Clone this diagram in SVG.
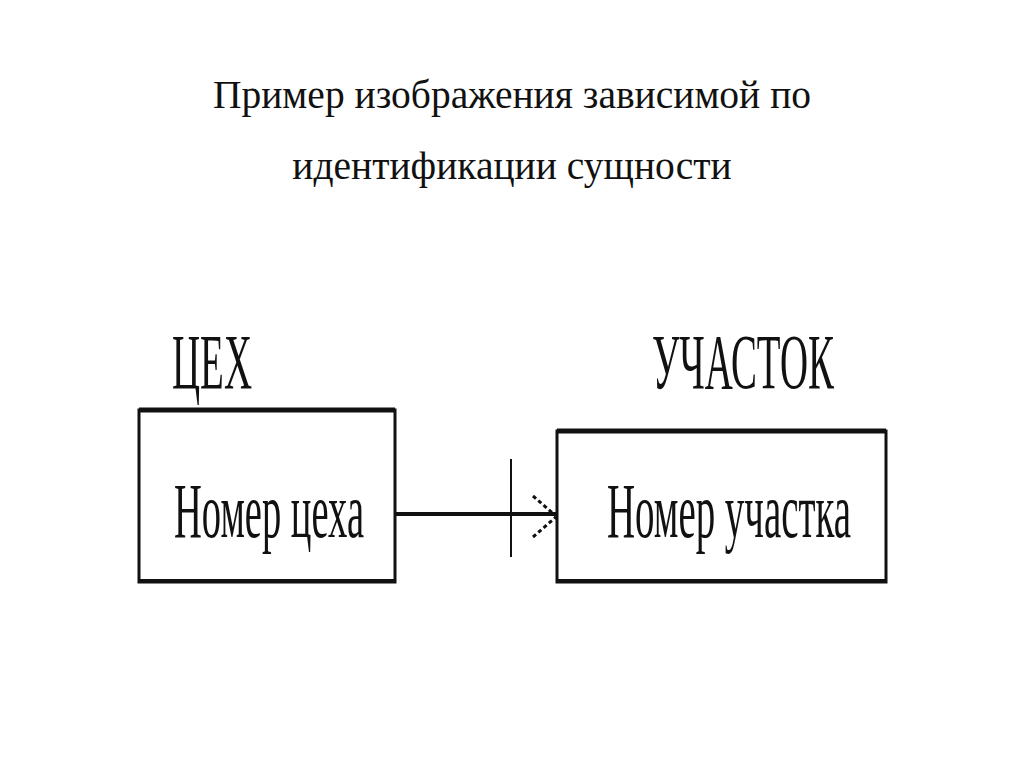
<svg xmlns="http://www.w3.org/2000/svg" width="1024" height="768" viewBox="0 0 1024 768">
<style>
.title{font-family:"Liberation Serif","Times New Roman",serif;font-size:39.5px;fill:#111;text-anchor:middle}
.big{font-family:"Liberation Serif","Times New Roman",serif;font-size:78px;fill:#111}
.box{fill:#fff;stroke:#111;stroke-width:3}
.edge{stroke:#111;fill:none}
</style>
<rect width="1024" height="768" fill="#fff"/>
<g id="title">
<text class="title" x="512" y="108">Пример изображения зависимой по</text>
<text class="title" x="512" y="179">идентификации сущности</text>
</g>
<g id="node-ceh">
<rect class="box" x="139" y="410" width="256" height="172"/>
<line class="edge" x1="139" y1="410" x2="395" y2="410" stroke-width="5"/>
<line class="edge" x1="139" y1="581" x2="395" y2="581" stroke-width="4"/>
<text class="big" x="172" y="388" textLength="80" lengthAdjust="spacingAndGlyphs">ЦЕХ</text>
<text class="big" x="174" y="537" textLength="190" lengthAdjust="spacingAndGlyphs">Номер цеха</text>
</g>
<g id="node-uchastok">
<rect class="box" x="557" y="431" width="329" height="151"/>
<line class="edge" x1="557" y1="431" x2="886" y2="431" stroke-width="5"/>
<line class="edge" x1="557" y1="581" x2="886" y2="581" stroke-width="4"/>
<text class="big" x="652" y="388" textLength="182" lengthAdjust="spacingAndGlyphs">УЧАСТОК</text>
<text class="big" x="607" y="537" textLength="244" lengthAdjust="spacingAndGlyphs">Номер участка</text>
</g>
<g id="connectors">
<line class="edge" x1="395" y1="514" x2="557" y2="514" stroke-width="4"/>
<line class="edge" x1="511" y1="459" x2="511" y2="557" stroke-width="2"/>
<path class="edge" d="M533,496 L556,516 M533,537 L556,517" stroke-width="3" stroke-dasharray="4,3"/>
</g>
</svg>
